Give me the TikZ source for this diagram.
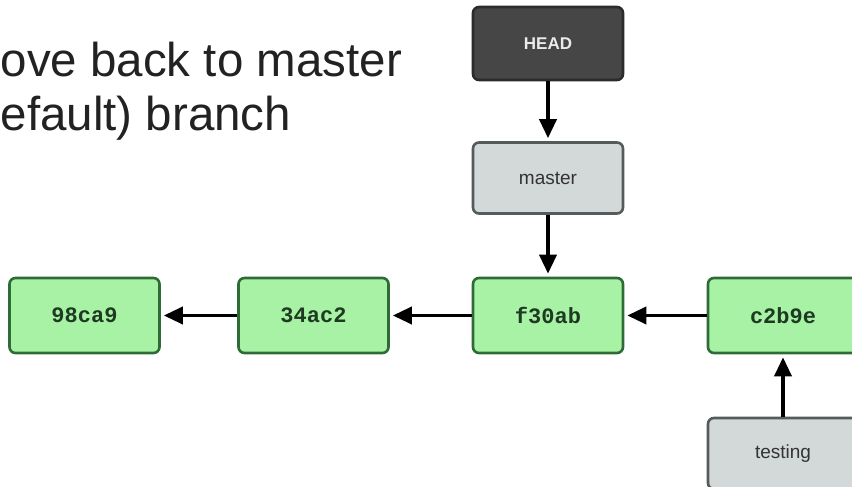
\documentclass[tikz,border=0pt]{standalone}
\usepackage{fontspec}
\setmainfont{Liberation Sans}
\newfontfamily\commitfont{Liberation Mono}
\usetikzlibrary{arrows.meta}
\definecolor{commitfill}{HTML}{A8F2A5}
\definecolor{commitedge}{HTML}{2F6B36}
\definecolor{commitink}{HTML}{1E3A22}
\definecolor{reffill}{HTML}{D3D8D8}
\definecolor{refedge}{HTML}{555A5A}
\definecolor{headfill}{HTML}{464646}
\definecolor{headedge}{HTML}{2C2C2C}
\definecolor{captionink}{HTML}{222222}
\tikzset{
  box/.style={rectangle, rounded corners=6pt, line width=2.6pt,
    minimum width=150pt, inner sep=0pt},
  commit/.style={box, fill=commitfill, draw=commitedge, minimum height=75pt,
    text=commitink, font=\commitfont\bfseries\fontsize{22}{22}\selectfont},
  branchref/.style={box, fill=reffill, draw=refedge, minimum height=71pt,
    text=black!80, font=\fontsize{19}{19}\selectfont},
  headref/.style={box, fill=headfill, draw=headedge, minimum height=73pt,
    text=white!92!black, font=\bfseries\fontsize{17}{17}\selectfont},
  link/.style={line width=3.6pt, draw=black,
    -{Triangle[length=19pt,width=17pt]}, shorten >=3pt},
  caption/.style={anchor=base west, inner sep=0pt, text=captionink,
    font=\fontsize{47.5}{54}\selectfont}
}
\begin{document}
\begin{tikzpicture}[x=1pt,y=-1pt]
  \useasboundingbox (0,0) rectangle (852,487);
  \clip (0,0) rectangle (852,487);
  \fill[white] (0,0) rectangle (852,487);

  % caption lines
  \node[caption] (line1) at (0.5,77) {ove back to master};
  \node[caption] (line2) at (0.5,130) {efault) branch};

  % references
  \node[headref]   (head)    at (548,43.5) {HEAD};
  \node[branchref] (master)  at (548,178)  {master};
  \node[branchref] (testing) at (783,453.5) {testing};

  % commits
  \node[commit] (c98ca9) at (84.5,315.5)  {98ca9};
  \node[commit] (c34ac2) at (313.5,315.5) {34ac2};
  \node[commit] (cf30ab) at (548,315.5)   {f30ab};
  \node[commit] (cc2b9e) at (783,315.5)   {c2b9e};

  % pointers
  \draw[link] (head) -- (master);
  \draw[link] (master) -- (cf30ab);
  \draw[link] (testing) -- (cc2b9e);
  \draw[link] (c34ac2) -- (c98ca9);
  \draw[link] (cf30ab) -- (c34ac2);
  \draw[link] (cc2b9e) -- (cf30ab);
\end{tikzpicture}
\end{document}
